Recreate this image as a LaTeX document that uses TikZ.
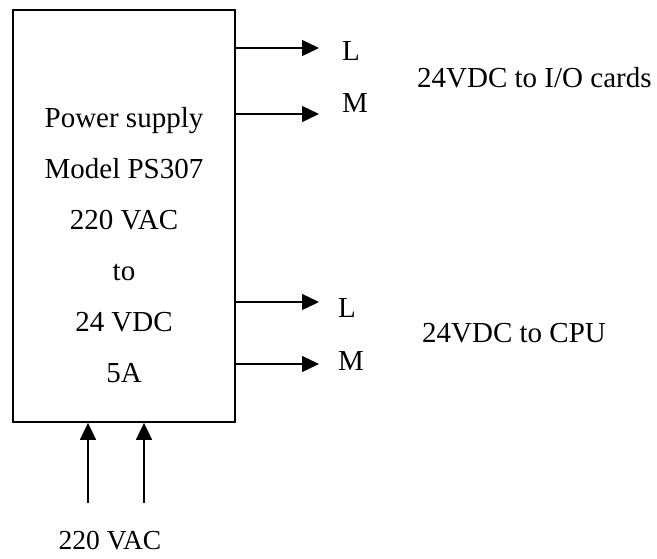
\documentclass[tikz,border=0pt]{standalone}
\usepackage{fontspec}
\setmainfont{Liberation Serif}
\usetikzlibrary{arrows.meta,positioning}

\tikzset{
    lbl/.style={inner sep=0pt, font=\fontsize{29}{51}\selectfont},
    sig/.style={line width=1.4pt, -{Triangle[length=17pt,width=16pt]}}
}

\begin{document}
\begin{tikzpicture}[x=1pt, y=-1pt]
    \useasboundingbox (0,0) rectangle (657,558);

    \node[draw, line width=1.8pt, minimum width=222pt, minimum height=412pt, inner sep=0pt] (psu) at (124,216) {};
    \node[lbl, align=center] (psutext) at (124,245) {Power supply\\Model PS307\\220 VAC\\to\\24 VDC\\5A};

    % outputs
    \coordinate (l1) at (319,48);
    \coordinate (m1) at (319,114);
    \coordinate (l2) at (319,302);
    \coordinate (m2) at (319,364);
    \draw[sig] (psu.east |- l1) -- (l1);
    \draw[sig] (psu.east |- m1) -- (m1);
    \draw[sig] (psu.east |- l2) -- (l2);
    \draw[sig] (psu.east |- m2) -- (m2);
    \node[lbl, anchor=base west] (labl1) at (342,60) {L};
    \node[lbl, anchor=base west] (labm1) at (342,112) {M};
    \node[lbl, anchor=base west] (labl2) at (338,317) {L};
    \node[lbl, anchor=base west] (labm2) at (338,370) {M};
    \node[lbl, anchor=base west] (io) at (417,87) {24VDC to I/O cards};
    \node[lbl, anchor=base west] (cpu) at (422,342) {24VDC to CPU};

    % input
    \coordinate (in1) at (88,503);
    \coordinate (in2) at (144,503);
    \draw[sig] (in1) -- (in1 |- psu.south);
    \draw[sig] (in2) -- (in2 |- psu.south);
    \node[lbl, font=\fontsize{27.5}{30}\selectfont, anchor=base] (vac) at (110,549) {220 VAC};
\end{tikzpicture}
\end{document}
